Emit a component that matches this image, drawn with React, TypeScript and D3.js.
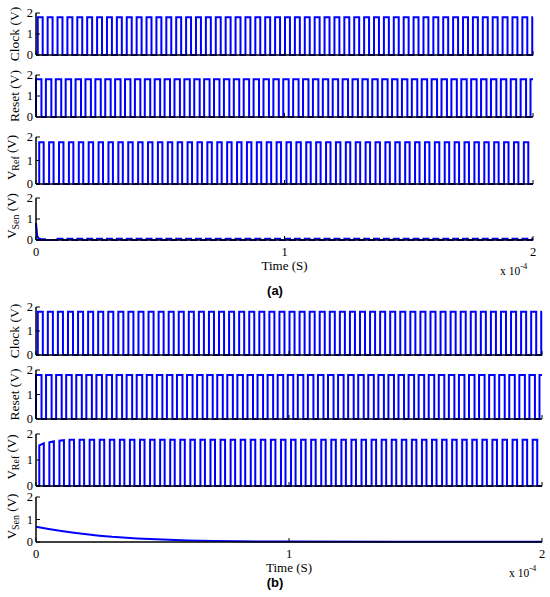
import React from 'react';
import * as d3 from 'd3';

// Time is in microseconds; the axis shows it as x 10^-4 s.
const timeDomain: [number, number] = [0, 200];
const timeTicks = [0, 100, 200];
const timeTickLabels = ['0', '1', '2'];
const voltDomain: [number, number] = [0, 2];
const voltTicks = [0, 1, 2];
const voltTickLabels = ['0', '1', '2'];

const rowNames = ['Clock', 'Reset', 'V_Ref', 'V_Sen'];

// pulse trains (µs, V)
const clockPeriod = 3.98;
const pulseCount = 51;
const clockLevel = 1.8;
const clockStart = 0.7;
const clockDuty = 0.5;
const resetLevel = 1.8;
const resetStart = 0;
const resetDuty = 0.55;
const refLevel = 1.78;
const refStart = 1.3;
const refDuty = 0.45;

// (b): V_Ref charges up over the first pulses
const refBTopStart = [1.56, 1.68, 1.74];
const refBTopEnd = [1.64, 1.72, 1.76];

// V_Sen (a): fast discharge, then a small ripple
const senATimes = [0, 0.2, 0.5, 1, 2, 4];
const senAValues = [0.8, 0.55, 0.2, 0.08, 0.04, 0.03];
const senARipple = 0.06;

// V_Sen (b): slow discharge
const senBTimes = [0, 5, 10, 15, 20, 25, 30, 40, 50, 60, 70, 80, 100, 140, 200];
const senBValues = [0.68, 0.58, 0.49, 0.41, 0.34, 0.28, 0.23, 0.16, 0.11, 0.07, 0.05, 0.03, 0.02, 0.01, 0.01];

type Pt = [number, number];

function pulseTrain(start: number, duty: number, level: number,
  topStart: number[] = [], topEnd: number[] = [], firstPulse = 0): Pt[] {
  const pts: Pt[] = [];
  const tEnd = timeDomain[1];
  let open = false;
  for (let k = firstPulse; k < pulseCount; k++) {
    const tr = Math.max(0, start + k * clockPeriod);
    const tf = start + k * clockPeriod + duty * clockPeriod;
    if (tr > tEnd) break;
    const a = topStart[k] ?? level;
    const b = topEnd[k] ?? level;
    if (pts.length === 0 && tr > 0) pts.push([0, 0]);
    pts.push([tr, 0], [tr, a]);
    if (tf >= tEnd) {
      pts.push([tEnd, b]);
      open = true;
      break;
    }
    pts.push([tf, b], [tf, 0]);
  }
  if (!open) pts.push([tEnd, 0]);
  return pts;
}

const clockWave = pulseTrain(clockStart, clockDuty, clockLevel);
const resetWave = pulseTrain(resetStart, resetDuty, resetLevel);
const refAWave = pulseTrain(refStart, refDuty, refLevel);
const refBWave = pulseTrain(refStart, refDuty, refLevel, refBTopStart, refBTopEnd);
const senAWave: Pt[] = [
  ...senATimes.map((t, i) => [t, senAValues[i]] as Pt),
  ...pulseTrain(clockStart, clockDuty, senARipple, [], [], 2),
];
const senBWave: Pt[] = senBTimes.map((t, i) => [t, senBValues[i]] as Pt);

const serif = '"Liberation Serif", "Times New Roman", serif';

function RowLabel({ name, x, y }: { name: string; x: number; y: number }) {
  const [main, sub] = name.split('_');
  return (
    <text transform={`translate(${x},${y}) rotate(-90)`} textAnchor="middle"
      fontFamily={serif} fontSize={sub ? 13 : 13.5} dominantBaseline="central">
      {sub ? (
        <>
          <tspan>{main}</tspan>
          <tspan fontSize={10} dy={4}>{sub}</tspan>
          <tspan dy={-4}> (V)</tspan>
        </>
      ) : `${main} (V)`}
    </text>
  );
}

function Panel({ x0, x1, rows, waves, tag, tagY, labelX }: {
  x0: number; x1: number; rows: [number, number][]; waves: Pt[][];
  tag: string; tagY: number; labelX: number;
}) {
  const xs = d3.scaleLinear().domain(timeDomain).range([x0, x1]);
  const last = rows[rows.length - 1][1];
  return (
    <g>
      {rows.map(([top, bottom], i) => {
        const ys = d3.scaleLinear().domain(voltDomain).range([bottom, top]);
        const line = d3.line<Pt>().x(d => xs(d[0])).y(d => ys(d[1]));
        const isSub = rowNames[i].includes('_');
        return (
          <g key={i}>
            <path d={line(waves[i]) ?? ''} fill="none" stroke="#0000ff" strokeWidth={2} />
            <line x1={x0} y1={top} x2={x0} y2={bottom} stroke="#000" strokeWidth={1.5} />
            <line x1={x0} y1={bottom} x2={x1} y2={bottom} stroke="#000" strokeWidth={1.5} />
            {voltTicks.map((v, j) => (
              <g key={v}>
                <line x1={x0} x2={x0 + 4} y1={ys(v)} y2={ys(v)} stroke="#000" strokeWidth={1} />
                <text x={x0 - 3} y={ys(v)} textAnchor="end" dominantBaseline="central"
                  fontFamily={serif} fontSize={12.5}>{voltTickLabels[j]}</text>
              </g>
            ))}
            {timeTicks.map(t => (
              <line key={t} x1={xs(t)} x2={xs(t)} y1={bottom} y2={bottom - 4} stroke="#000" strokeWidth={1} />
            ))}
            <RowLabel name={rowNames[i]} x={isSub ? labelX - 3 : labelX}
              y={(top + bottom) / 2 - (isSub ? 3 : 0)} />
          </g>
        );
      })}
      {timeTicks.map((t, j) => (
        <text key={t} x={xs(t)} y={last + 12} textAnchor="middle" dominantBaseline="central"
          fontFamily={serif} fontSize={12.5}>{timeTickLabels[j]}</text>
      ))}
      <text x={(x0 + x1) / 2} y={last + 25} textAnchor="middle" dominantBaseline="central"
        fontFamily={serif} fontSize={13}>Time (S)</text>
      <text x={x1 - 33} y={last + 35} fontFamily={serif} fontSize={11.5}>
        x 10<tspan fontSize={8.5} dy={-6}>-4</tspan>
      </text>
      <text x={275} y={tagY} textAnchor="middle" dominantBaseline="central"
        fontFamily='"Liberation Sans", Arial, sans-serif' fontWeight="bold" fontSize={13}>({tag})</text>
    </g>
  );
}

export default function App() {
  return (
    <svg width={550} height={597} style={{ position: 'absolute', left: 0, top: 0, background: '#fff' }}>
      <Panel x0={36} x1={533} labelX={14} tag="a" tagY={290}
        rows={[[13, 55], [75, 117], [137, 184], [198, 240]]}
        waves={[clockWave, resetWave, refAWave, senAWave]} />
      <Panel x0={36} x1={542} labelX={14} tag="b" tagY={582}
        rows={[[307, 355], [370, 419], [434, 486], [497, 542]]}
        waves={[clockWave, resetWave, refBWave, senBWave]} />
    </svg>
  );
}
